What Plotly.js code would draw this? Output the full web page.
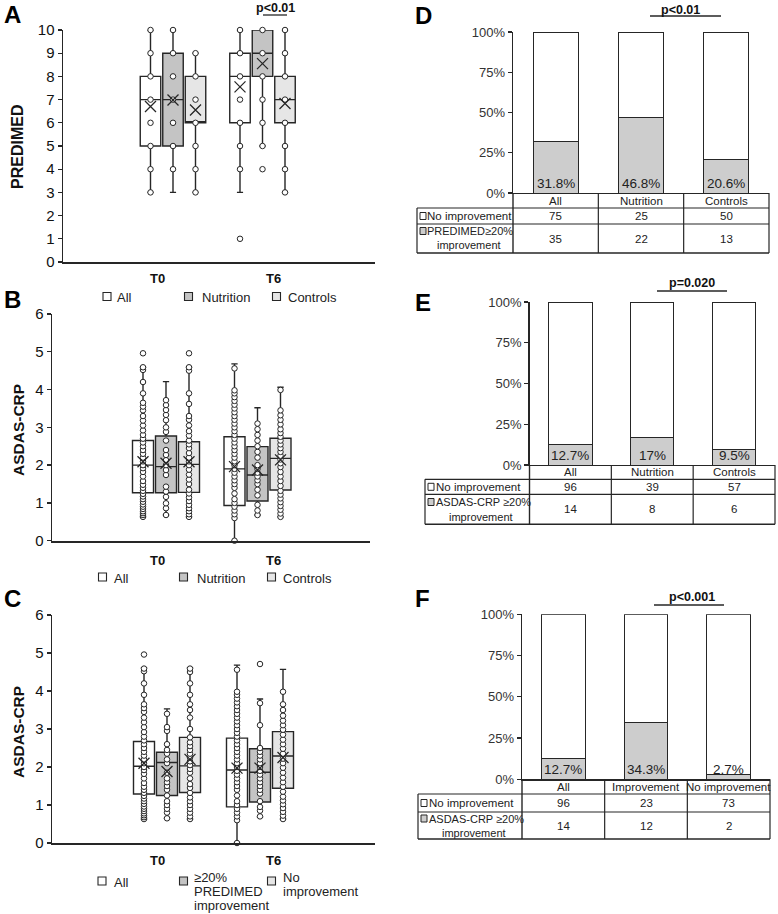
<!DOCTYPE html>
<html><head><meta charset="utf-8">
<script src="https://cdn.plot.ly/plotly-3.0.1.min.js"></script>
<style>html,body{margin:0;padding:0;background:#fff}#chart{width:778px;height:914px}</style>
</head><body><div id="chart"></div>
<script>
// ---------------- DATA ----------------
const timepoints = ['T0', 'T6'];

// Panel A – PREDIMED (All / Nutrition / Controls)
const A_all_T0 = [3,4,5,6,7,8,9,10];
const A_all_T6 = [1,4,5,6,7,8,9,10];
const A_nut_T0 = [4,5,6,7,8,9,10];
const A_nut_T6 = [4,5,6,7,8,9,10];
const A_ctl_T0 = [3,4,5,6,7,8,9];
const A_ctl_T6 = [3,4,5,6,7,8,9,10];
const A_all_q1 = [5,6],  A_all_med = [7,8], A_all_q3 = [8,9],  A_all_lo = [3,3], A_all_hi = [10,10], A_all_mean = [6.70,7.55];
const A_nut_q1 = [5,8],  A_nut_med = [7,9], A_nut_q3 = [9,10], A_nut_lo = [3,5], A_nut_hi = [10,10], A_nut_mean = [6.98,8.55];
const A_ctl_q1 = [6,6],  A_ctl_med = [6,7], A_ctl_q3 = [8,8],  A_ctl_lo = [3,3], A_ctl_hi = [9,10],  A_ctl_mean = [6.55,6.83];

// Panel B – ASDAS-CRP (All / Nutrition / Controls)
const B_all_T0 = [0.63,0.68,0.73,0.78,0.84,0.9,0.96,1.03,1.1,1.17,1.24,1.32,1.4,1.48,1.58,1.7,1.82,1.92,2.0,2.1,2.2,2.3,2.4,2.5,2.6,2.7,2.8,2.92,3.05,3.18,3.3,3.45,3.55,3.65,3.9,4.2,4.52,4.59,4.96];
const B_all_T6 = [0.0,0.6,0.7,0.8,0.9,1.0,1.1,1.25,1.4,1.5,1.6,1.7,1.8,1.9,2.0,2.1,2.2,2.3,2.4,2.5,2.6,2.7,2.8,2.9,3.0,3.1,3.2,3.3,3.4,3.5,3.6,3.7,3.8,3.9,3.98,4.56];
const B_nut_T0 = [0.68,0.86,0.99,1.16,1.3,1.43,1.74,1.87,2.0,2.13,2.27,2.4,2.65,2.88,3.0,3.19,3.33,3.46,3.59,3.72];
const B_nut_T6 = [0.68,0.8,0.95,1.2,1.35,1.5,1.6,1.7,1.8,1.9,2.0,2.2,2.35,2.5,2.65,2.8,2.95,3.1];
const B_ctl_T0 = [0.63,0.7,0.78,0.86,0.95,1.05,1.15,1.25,1.35,1.5,1.62,1.75,1.88,2.0,2.1,2.2,2.32,2.45,2.55,2.65,2.78,2.9,3.05,3.2,3.3,3.62,3.9,4.5,4.59,4.96];
const B_ctl_T6 = [0.63,0.72,0.82,0.92,1.02,1.12,1.22,1.32,1.45,1.58,1.7,1.82,1.95,2.05,2.15,2.25,2.35,2.45,2.55,2.65,2.75,2.85,2.95,3.08,3.2,3.32,3.45,3.99];
const B_all_q1 = [1.27,0.93], B_all_med = [2.00,1.90], B_all_q3 = [2.65,2.75], B_all_lo = [0.63,0.00], B_all_hi = [4.59,4.68], B_all_mean = [2.09,1.96];
const B_nut_q1 = [1.27,1.05], B_nut_med = [1.96,1.74], B_nut_q3 = [2.77,2.49], B_nut_lo = [0.68,0.68], B_nut_hi = [4.21,3.52], B_nut_mean = [2.05,1.87];
const B_ctl_q1 = [1.28,1.34], B_ctl_med = [2.02,2.18], B_ctl_q3 = [2.62,2.71], B_ctl_lo = [0.63,0.63], B_ctl_hi = [4.59,4.06], B_ctl_mean = [2.09,2.14];

// Panel C – ASDAS-CRP (All / >=20% PREDIMED improvement / No improvement)
const C_all_T0 = B_all_T0;
const C_all_T6 = B_all_T6;
const C_imp_T0 = [0.65,0.8,0.9,1.0,1.1,1.25,1.4,1.5,1.6,1.7,1.85,2.1,2.2,2.35,2.45,2.6,2.95,3.05,3.4];
const C_imp_T6 = [0.7,0.85,0.95,1.1,1.3,1.4,1.5,1.6,1.7,1.8,1.9,2.0,2.1,2.2,2.3,2.4,2.5,3.1,3.68,4.71];
const C_no_T0  = [0.63,0.7,0.8,0.9,1.0,1.1,1.2,1.32,1.45,1.55,1.7,1.85,1.95,2.05,2.15,2.25,2.35,2.45,2.55,2.65,2.78,3.0,3.3,3.5,3.65,3.9,4.2,4.5,4.59];
const C_no_T6  = [0.63,0.72,0.82,0.92,1.02,1.12,1.22,1.35,1.48,1.6,1.72,1.85,1.98,2.1,2.22,2.35,2.48,2.6,2.72,2.85,2.98,3.1,3.22,3.35,3.5,3.65,3.98];
const C_all_q1 = [1.29,0.95], C_all_med = [2.02,1.92], C_all_q3 = [2.67,2.76], C_all_lo = [0.63,0.00], C_all_hi = [4.61,4.68], C_all_mean = [2.10,1.97];
const C_imp_q1 = [1.25,1.08], C_imp_med = [2.12,1.86], C_imp_q3 = [2.39,2.48], C_imp_lo = [0.65,0.68], C_imp_hi = [3.53,3.79], C_imp_mean = [1.88,1.97];
const C_no_q1  = [1.33,1.44], C_no_med  = [2.03,2.29], C_no_q3  = [2.78,2.93], C_no_lo  = [0.63,0.63], C_no_hi  = [4.61,4.57], C_no_mean  = [2.20,2.25];

// Panels D, E, F – stacked percentage bars and tables
const D_cats = ['All','Nutrition','Controls'];
const D_pct = [31.8, 46.8, 20.6];
const D_lbl = ['31.8%','46.8%','20.6%'];
const D_noimp = ['75','25','50'];
const D_imp = ['35','22','13'];
const E_cats = ['All','Nutrition','Controls'];
const E_pct = [12.7, 17.0, 9.5];
const E_lbl = ['12.7%','17%','9.5%'];
const E_noimp = ['96','39','57'];
const E_imp = ['14','8','6'];
const F_cats = ['All','Improvement','No improvement'];
const F_pct = [12.7, 34.3, 2.7];
const F_lbl = ['12.7%','34.3%','2.7%'];
const F_noimp = ['96','23','73'];
const F_imp = ['14','12','2'];

// ---------------- STYLE / LAYOUT ----------------
const W = 778, H = 914;
const PX = x => x / W, PY = y => 1 - y / H;
const FONT = 'Liberation Sans, Arial, sans-serif';
const DARK = '#262626';
const FILLS = ['#ffffff', '#c4c4c4', '#e6e6e6'];
const BARGRAY = '#cdcdcd';

const data = [];
const layout = {
  width: W, height: H, margin: {l:0, r:0, t:0, b:0},
  paper_bgcolor: '#fff', plot_bgcolor: 'rgba(0,0,0,0)',
  showlegend: false, boxmode: 'overlay', barmode: 'stack',
  font: {family: FONT, color: '#222'},
  shapes: [], annotations: []
};
const ax = (n) => n === 1 ? '' : String(n);

function ann(o) { layout.annotations.push(Object.assign({showarrow:false, xref:'paper', yref:'paper', xanchor:'center', yanchor:'middle', borderpad:0, font:{family:FONT, size:13, color:'#222'}}, o)); }
function line(x0,y0,x1,y1,w) { layout.shapes.push({type:'line', xref:'paper', yref:'paper', x0:PX(x0), y0:PY(y0), x1:PX(x1), y1:PY(y1), line:{color:DARK, width:w||1.2}}); }
function rect(x0,y0,x1,y1,fill,w) { layout.shapes.push({type:'rect', xref:'paper', yref:'paper', x0:PX(x0), y0:PY(y0), x1:PX(x1), y1:PY(y1), fillcolor:fill, line:{color:DARK, width:w||1}}); }

function boxPanel(n, P, series) {
  const xa = 'x'+ax(n), ya = 'y'+ax(n);
  series.forEach((s, i) => {
    const off = (i - 1) * P.slot / P.u;
    const pos = [0 + off, 1 + off];
    data.push({type:'box', xaxis:xa, yaxis:ya, x:pos, q1:s.q1, median:s.med, q3:s.q3,
      lowerfence:s.lo, upperfence:s.hi, width:P.boxW / P.u, whiskerwidth:0.3,
      fillcolor:FILLS[i], line:{color:DARK, width:1.4}, boxpoints:false, hoverinfo:'skip'});
    const xs = [], ys = [];
    s.pts.forEach((arr, g) => arr.forEach(v => { xs.push(pos[g]); ys.push(v); }));
    data.push({type:'scatter', mode:'markers', xaxis:xa, yaxis:ya, x:xs, y:ys, hoverinfo:'skip', cliponaxis:false,
      marker:{symbol:'circle', size:5.5, color:'#fff', line:{color:DARK, width:1}}});
    data.push({type:'scatter', mode:'markers', xaxis:xa, yaxis:ya, x:pos, y:s.mean, hoverinfo:'skip',
      marker:{symbol:'x-thin-open', size:11, color:DARK, line:{color:DARK, width:1.3}}});
  });
  layout['xaxis'+ax(n)] = {domain:[PX(P.xl), PX(P.xr)], range:[(P.xl-P.c0)/P.u, (P.xr-P.c0)/P.u],
    anchor:ya, showline:true, linecolor:DARK, linewidth:2, showticklabels:false, ticks:'', showgrid:false, zeroline:false, fixedrange:true};
  layout['yaxis'+ax(n)] = {domain:[PY(P.bot), PY(P.top)], range:[0, P.ymax], dtick:1, anchor:xa,
    ticks:'outside', ticklen:4, tickwidth:1.3, tickcolor:DARK, showline:true, linecolor:DARK, linewidth:1.5,
    showgrid:false, zeroline:false, tickfont:{family:FONT, size:15, color:'#111'}, fixedrange:true};
  timepoints.forEach((t, k) => ann({x:PX(P.tx[k]), y:PY(P.ty), text:'<b>'+t+'</b>', font:{family:FONT, size:13, color:'#111'}}));
  ann({x:PX(P.titleX), y:PY(P.titleY), text:'<b>'+P.title+'</b>', textangle:-90, font:{family:FONT, size:P.titleSize, color:'#111'}});
  ann({x:PX(P.letterX), y:PY(P.letterY), text:'<b>'+P.letter+'</b>', font:{family:FONT, size:24, color:'#000'}});
}

function barPanel(n, P, cats, pct, lbl, rowA, rowB, rowBLabel) {
  const xa = 'x'+ax(n), ya = 'y'+ax(n);
  data.push({type:'bar', xaxis:xa, yaxis:ya, x:cats, y:pct.map(v => v/100), width:0.53,
    marker:{color:BARGRAY, line:{color:DARK, width:1}}, hoverinfo:'skip'});
  data.push({type:'bar', xaxis:xa, yaxis:ya, x:cats, y:pct.map(v => 1 - v/100), width:0.53,
    marker:{color:'#fff', line:{color:DARK, width:1}}, hoverinfo:'skip'});
  layout['xaxis'+ax(n)] = {domain:[PX(P.xl), PX(P.xr)], type:'category', range:[-0.5, 2.5], anchor:ya,
    showline:true, linecolor:DARK, linewidth:1.4, showticklabels:false, ticks:'', showgrid:false, zeroline:false, fixedrange:true};
  layout['yaxis'+ax(n)] = {domain:[PY(P.bot), PY(P.top)], range:[0, 1], tickvals:[0,0.25,0.5,0.75,1], tickformat:'.0%', anchor:xa,
    ticks:'outside', ticklen:4, tickwidth:1.2, tickcolor:DARK, showline:true, linecolor:DARK, linewidth:1.4,
    showgrid:false, zeroline:false, tickfont:{family:FONT, size:13, color:'#333'}, fixedrange:true};
  cats.forEach((c, k) => ann({xref:xa, yref:ya, x:c, y:0, yanchor:'bottom', yshift:1, text:lbl[k], font:{family:FONT, size:13.5, color:'#222'}}));
  const R = P.rows;
  const cols = [0,1,2,3].map(k => P.xl + k * (P.xr - P.xl) / 3);
  line(P.left, R[1], P.xr, R[1]); line(P.left, R[2], P.xr, R[2]); line(P.left, R[3], P.xr, R[3], 1.4);
  line(P.left, R[1], P.left, R[3]);
  cols.forEach((cx, k) => line(cx, R[0], cx, R[3], k === 0 ? 1.4 : 1.2));
  const fs = 11.5;
  cats.forEach((c, k) => {
    ann({xref:xa, x:c, y:PY((R[0]+R[1])/2), text:c, font:{family:FONT, size:fs, color:'#222'}});
    ann({xref:xa, x:c, y:PY((R[1]+R[2])/2), text:rowA[k], font:{family:FONT, size:fs, color:'#222'}});
    ann({xref:xa, x:c, y:PY((R[2]+R[3])/2), text:rowB[k], font:{family:FONT, size:fs, color:'#222'}});
  });
  const ry1 = (R[1]+R[2])/2;
  const fl = 11;
  rect(P.left+3, ry1-3.5, P.left+9, ry1+3.5, '#fff', 1);
  ann({x:PX(P.left+9.5), xanchor:'left', y:PY(ry1), text:'No improvement', font:{family:FONT, size:fs, color:'#222'}});
  rect(P.left+3, P.l1-3.5, P.left+9, P.l1+3.5, BARGRAY, 1);
  ann({x:PX(P.left+9.5), xanchor:'left', y:PY(P.l1), text:rowBLabel, font:{family:FONT, size:fl, color:'#222'}});
  ann({x:PX((P.left+P.xl)/2 + 4), y:PY(P.l2), text:'improvement', font:{family:FONT, size:fl, color:'#222'}});
  ann({x:PX(P.pX), y:PY(P.pY), text:'<b>'+P.p+'</b>', font:{family:FONT, size:12.5, color:'#111'}});
  line(P.pL0, P.pLY, P.pL1, P.pLY, 1.3);
  ann({x:PX(P.letterX), y:PY(P.letterY), text:'<b>'+P.letter+'</b>', font:{family:FONT, size:24, color:'#000'}});
}

// ---------------- PANELS ----------------
boxPanel(1, {xl:63, xr:375, c0:173, u:89.5, slot:22.5, boxW:20.5, top:30, bot:262, ymax:10,
  tx:[157,273], ty:278, title:'PREDIMED', titleX:17, titleY:147, titleSize:16, letter:'A', letterX:13, letterY:15}, [
  {pts:[A_all_T0, A_all_T6], q1:A_all_q1, med:A_all_med, q3:A_all_q3, lo:A_all_lo, hi:A_all_hi, mean:A_all_mean},
  {pts:[A_nut_T0, A_nut_T6], q1:A_nut_q1, med:A_nut_med, q3:A_nut_q3, lo:A_nut_lo, hi:A_nut_hi, mean:A_nut_mean},
  {pts:[A_ctl_T0, A_ctl_T6], q1:A_ctl_q1, med:A_ctl_med, q3:A_ctl_q3, lo:A_ctl_lo, hi:A_ctl_hi, mean:A_ctl_mean}]);

boxPanel(2, {xl:52, xr:370, c0:166, u:91.5, slot:23, boxW:21, top:314, bot:540.7, ymax:6,
  tx:[157,273], ty:560, title:'ASDAS-CRP', titleX:18, titleY:430, titleSize:15.5, letter:'B', letterX:13, letterY:300}, [
  {pts:[B_all_T0, B_all_T6], q1:B_all_q1, med:B_all_med, q3:B_all_q3, lo:B_all_lo, hi:B_all_hi, mean:B_all_mean},
  {pts:[B_nut_T0, B_nut_T6], q1:B_nut_q1, med:B_nut_med, q3:B_nut_q3, lo:B_nut_lo, hi:B_nut_hi, mean:B_nut_mean},
  {pts:[B_ctl_T0, B_ctl_T6], q1:B_ctl_q1, med:B_ctl_med, q3:B_ctl_q3, lo:B_ctl_lo, hi:B_ctl_hi, mean:B_ctl_mean}]);

boxPanel(3, {xl:52, xr:375, c0:167, u:93, slot:23, boxW:21, top:615, bot:843, ymax:6,
  tx:[157,273], ty:860, title:'ASDAS-CRP', titleX:18, titleY:732, titleSize:15.5, letter:'C', letterX:13, letterY:598}, [
  {pts:[C_all_T0, C_all_T6], q1:C_all_q1, med:C_all_med, q3:C_all_q3, lo:C_all_lo, hi:C_all_hi, mean:C_all_mean},
  {pts:[C_imp_T0, C_imp_T6], q1:C_imp_q1, med:C_imp_med, q3:C_imp_q3, lo:C_imp_lo, hi:C_imp_hi, mean:C_imp_mean},
  {pts:[C_no_T0,  C_no_T6],  q1:C_no_q1,  med:C_no_med,  q3:C_no_q3,  lo:C_no_lo,  hi:C_no_hi,  mean:C_no_mean}]);

barPanel(4, {xl:513, xr:769, top:32, bot:193, left:417, rows:[193,208,224,253], l1:231, l2:245.5,
  p:'p&lt;0.01', pX:680, pY:10, pL0:650, pL1:721, pLY:16, letter:'D', letterX:423, letterY:16},
  D_cats, D_pct, D_lbl, D_noimp, D_imp, 'PREDIMED≥20%');
barPanel(5, {xl:529.5, xr:775, top:302, bot:465, left:425, rows:[465,479.3,494.3,524.3], l1:502, l2:516.5,
  p:'p=0.020', pX:692, pY:283, pL0:657, pL1:727, pLY:291, letter:'E', letterX:423, letterY:302},
  E_cats, E_pct, E_lbl, E_noimp, E_imp, 'ASDAS-CRP ≥20%');
barPanel(6, {xl:522, xr:770, top:614.3, bot:779.3, left:418, rows:[779.3,794,812,839], l1:818.5, l2:833,
  p:'p&lt;0.001', pX:692, pY:597, pL0:654, pL1:724, pLY:605, letter:'F', letterX:422, letterY:598},
  F_cats, F_pct, F_lbl, F_noimp, F_imp, 'ASDAS-CRP ≥20%');

// p-value for panel A
ann({x:PX(275), y:PY(8), text:'<b>p&lt;0.01</b>', font:{family:FONT, size:12.5, color:'#111'}});
line(263, 15, 287, 15, 1.3);

// ---------------- LEGENDS under box panels ----------------
const legendNames1 = ['All', 'Nutrition', 'Controls'];
function legendRow(ySq, sqX, txX, yTxt, lines) {
  sqX.forEach((sx, i) => {
    rect(sx, ySq-4, sx+8, ySq+4, FILLS[i], 1.1);
    lines[i].forEach((t, j) => ann({x:PX(txX[i]), xanchor:'left', y:PY(yTxt[i][j]), text:t, font:{family:FONT, size:13, color:'#222'}}));
  });
}
legendRow(296.5, [103,184.5,272.5], [116,201,287], [[297],[297],[297]], legendNames1.map(s => [s]));
legendRow(577, [98.5,179.5,267.5], [113,196,282], [[578],[578],[578]], legendNames1.map(s => [s]));
legendRow(881, [98,179.5,267.5], [113,193,282], [[882],[877,891.5,905.5],[877,891.5]],
  [['All'], ['≥20%','PREDIMED','improvement'], ['No','improvement']]);

Plotly.newPlot('chart', data, layout, {staticPlot:true, displayModeBar:false});
</script></body></html>
